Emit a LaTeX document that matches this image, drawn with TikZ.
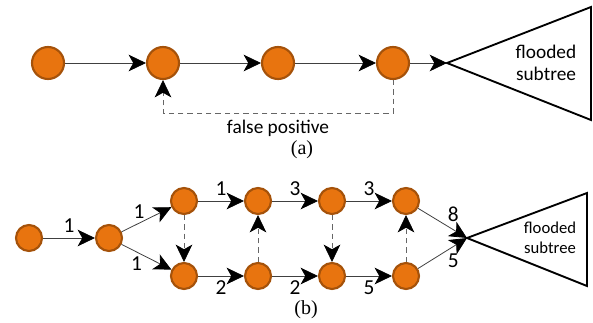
\documentclass[tikz,border=0pt]{standalone}
\usepackage{fontspec}
\setmainfont{Carlito}
\newfontfamily\capfont{Liberation Serif}
\usetikzlibrary{arrows.meta}

\definecolor{nodeorange}{HTML}{E8740F}
\definecolor{nodeedge}{HTML}{A5520A}
\definecolor{linegray}{HTML}{404040}

\tikzset{
  vtx/.style = {circle, fill=nodeorange, draw=nodeedge, line width=1.6pt, inner sep=0pt},
  bigvtx/.style = {vtx, minimum size=24pt},
  smallvtx/.style = {vtx, minimum size=19.5pt},
  tip/.style = {-{Stealth[length=13pt, width=12.5pt, inset=3.5pt, color=black]}},
  flow/.style = {tip, draw=linegray, line width=0.6pt},
  fpline/.style = {tip, draw=linegray!80, line width=0.6pt, dash pattern=on 4pt off 3pt},
  subtree/.style = {draw=black, line width=1.4pt, line join=miter},
  wlabel/.style = {font=\fontsize{16}{18}\selectfont, inner sep=3.5pt},
}

\begin{document}
\begin{tikzpicture}[x=0.75pt, y=-0.75pt]
    \useasboundingbox (0,0) rectangle (593,322);

    % (a) false positive
    \node[bigvtx] (a1) at (48,63) {};
    \node[bigvtx] (a2) at (163,63) {};
    \node[bigvtx] (a3) at (278,63) {};
    \node[bigvtx] (a4) at (393,63) {};
    \coordinate (apexa) at (447,63);
    \draw[subtree] (apexa) -- (591,7) -- (591,120) -- cycle;
    \node[align=center, font=\fontsize{14.5}{17}\selectfont] (treea) at (546,63) {flooded\\subtree};

    \draw[flow] (a1) -- (a2);
    \draw[flow] (a2) -- (a3);
    \draw[flow] (a3) -- (a4);
    \draw[flow] (a4) -- (apexa);
    \draw[fpline] (a4.south) -- ++(0,33) -| (a2.south);
    \node[font=\fontsize{14.5}{17}\selectfont] (fp) at (278,128) {false positive};
    \node[font=\capfont\fontsize{15}{17}\selectfont] (capa) at (302,150) {(a)};

    % (b) weighted paths
    \node[smallvtx] (b0) at (29,238) {};
    \node[smallvtx] (b1) at (109,238) {};
    \node[smallvtx] (b2) at (184,201) {};
    \node[smallvtx] (b3) at (184,276) {};
    \node[smallvtx] (b4) at (258,201) {};
    \node[smallvtx] (b5) at (258,276) {};
    \node[smallvtx] (b6) at (332,201) {};
    \node[smallvtx] (b7) at (332,276) {};
    \node[smallvtx] (b8) at (406,201) {};
    \node[smallvtx] (b9) at (406,276) {};
    \coordinate (apexb) at (467,238);
    \draw[subtree] (apexb) -- (587,193) -- (587,286) -- cycle;
    \node[align=center, font=\fontsize{12.5}{15}\selectfont] (treeb) at (550,238) {flooded\\subtree};

    \draw[flow] (b0) -- node[wlabel, above] {1} (b1);
    \draw[flow] (b1) -- node[wlabel, pos=0.35, above] {1} (b2);
    \draw[flow] (b1) -- node[wlabel, pos=0.3, below] {1} (b3);
    \draw[flow] (b2) -- node[wlabel, above] {1} (b4);
    \draw[flow] (b4) -- node[wlabel, above] {3} (b6);
    \draw[flow] (b6) -- node[wlabel, above] {3} (b8);
    \draw[flow] (b3) -- node[wlabel, below] {2} (b5);
    \draw[flow] (b5) -- node[wlabel, below] {2} (b7);
    \draw[flow] (b7) -- node[wlabel, below] {5} (b9);
    \draw[flow] (b8) -- node[wlabel, pos=0.72, above=2pt] {8} (apexb);
    \draw[flow] (b9) -- node[wlabel, pos=0.72, below=2pt] {5} (apexb);

    \draw[fpline] (b2) -- (b3);
    \draw[fpline] (b5) -- (b4);
    \draw[fpline] (b6) -- (b7);
    \draw[fpline] (b9) -- (b8);
    \node[font=\capfont\fontsize{15}{17}\selectfont] (capb) at (306,310) {(b)};
\end{tikzpicture}
\end{document}
